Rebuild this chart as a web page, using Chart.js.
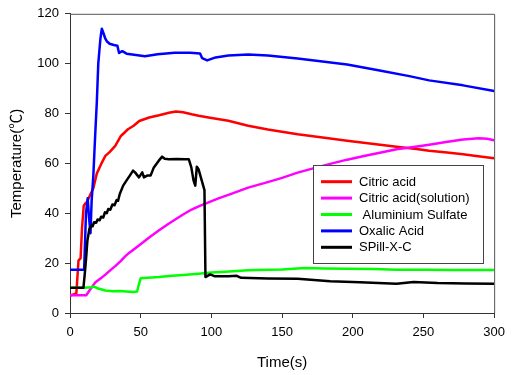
<!DOCTYPE html>
<html>
<head>
<meta charset="utf-8">
<script src="https://cdn.jsdelivr.net/npm/chart.js@4/dist/chart.umd.min.js"></script>
<style>
  html, body { margin: 0; padding: 0; background: #fff; }
  #wrap { width: 512px; height: 375px; position: relative; }
</style>
</head>
<body>
<div id="wrap"><canvas id="c" width="512" height="375"></canvas></div>
<script>
// ---- data ----
const seriesLabels = ['Citric acid', 'Citric acid(solution)', ' Aluminium Sulfate', 'Oxalic Acid', 'SPill-X-C'];

const citricT = [0, 3, 4.5, 6, 7.5, 8.5, 9.7, 11, 12, 14, 16.5, 19, 22, 25, 28, 32, 36, 41, 45, 49, 56, 63, 70, 75, 80, 86, 91, 98, 112, 126, 140, 161, 180, 196, 215, 231, 245, 254, 265, 278, 290, 300];
const citricV = [7, 7.5, 8, 21, 22, 34, 43, 44, 44.5, 47, 50, 56, 59.7, 63, 64.5, 67, 71, 73.7, 75.1, 77, 78.4, 79.3, 80.3, 80.8, 80.5, 79.7, 79.1, 78.4, 77.1, 75.1, 73.6, 71.7, 70.3, 69.1, 67.8, 66.7, 65.8, 65.1, 64.5, 63.7, 62.8, 62.1];

const solutionT = [0, 11.5, 14, 18, 22, 25, 29, 32, 36, 39, 42, 49, 56, 63, 70, 75, 80, 86, 91, 98, 105, 114, 126, 138, 150, 161, 172, 184, 196, 208, 220, 231, 243, 254, 266, 278, 289, 295, 300];
const solutionV = [7.1, 7.1, 9.2, 12.3, 14, 15.4, 17.4, 18.8, 20.9, 22.7, 24.2, 27.2, 30.3, 33.2, 35.9, 37.7, 39.5, 41.5, 42.8, 44.4, 46, 47.8, 50.3, 52.2, 54.2, 56.3, 58, 59.8, 61.5, 63, 64.4, 65.7, 66.6, 67.5, 68.6, 69.6, 70.1, 69.9, 69.3];

const sulfateT = [0, 10, 15, 17, 20, 25, 30, 35, 40, 45, 47.5, 48.5, 50, 55, 63, 70, 80, 91, 100, 110, 126, 140, 150, 166, 180, 196, 215, 231, 250, 270, 300];
const sulfateV = [10.1, 10.1, 10.3, 10.6, 9.8, 9, 8.7, 8.8, 8.6, 8.4, 8.6, 11, 13.9, 14.1, 14.4, 14.8, 15.2, 15.7, 16.2, 16.5, 17.1, 17.3, 17.4, 18, 17.8, 17.7, 17.6, 17.3, 17.3, 17.2, 17.2];

const oxalicT = [0, 10, 11.3, 12.5, 13.5, 14.5, 15.3, 16.5, 17.7, 19, 20, 21.5, 22.5, 23.5, 25, 26, 28, 31, 33.5, 34.7, 37, 40, 44, 53, 62, 74, 85, 92, 93.5, 97, 103, 112, 126, 140, 161, 180, 196, 219, 240, 254, 278, 300];
const oxalicV = [17.3, 17.3, 40, 46, 38, 32, 45, 55, 70, 85, 100, 110, 114, 112.5, 110, 109, 108, 107.5, 107.2, 104.3, 105, 104, 103.7, 103, 103.8, 104.4, 104.4, 104.1, 102.2, 101.3, 102.5, 103.3, 103.7, 103.3, 102.1, 100.8, 99.7, 97.3, 95, 93.3, 91.3, 89];

const spillT = [0, 9.5, 10.5, 11.4, 12.3, 13.7, 15, 16, 17, 18.5, 19.5, 21, 22, 23.5, 24.7, 26, 27, 28.5, 30, 31.5, 33, 34, 35.2, 37.6, 39.9, 42.3, 44.6, 46, 48.8, 51.1, 52.3, 54.6, 57, 59.3, 62.8, 65.2, 67, 69.9, 75, 81.6, 84, 85.8, 87.4, 88.6, 89.7, 90.9, 93.2, 95.1, 95.8, 99.1, 102.6, 112, 118, 121, 140, 161, 184, 205, 231, 243, 260, 280, 300];
const spillV = [10.1, 10.1, 16, 22, 29, 33.7, 35, 34.8, 36.4, 36.2, 37.5, 37.2, 38.6, 38.3, 40.4, 40, 41.7, 41.4, 43.5, 43.2, 45.3, 45, 47.7, 51.1, 53.1, 55.1, 57.1, 56.4, 54.4, 56.4, 54.4, 55.1, 55.1, 58.4, 61.1, 62.7, 61.9, 61.7, 61.8, 61.7, 61.7, 58.4, 53.1, 51.1, 58.7, 57.7, 53.1, 49.3, 14.4, 15.5, 14.7, 14.7, 14.9, 14.1, 13.8, 13.7, 12.7, 12.3, 11.7, 12.4, 12, 11.8, 11.7];

const xTickStep = 50;
const yTickStep = 20;

// ---- styles ----
const colors = ['#ff0000', '#ff00ff', '#00ff00', '#0000ff', '#000000'];
const FONT = '"Liberation Sans", Arial, "Noto Sans CJK SC", sans-serif';

function pts(ts, vs) { return ts.map((t, i) => ({ x: t, y: vs[i] })); }
const allT = [citricT, solutionT, sulfateT, oxalicT, spillT];
const allV = [citricV, solutionV, sulfateV, oxalicV, spillV];

const datasets = seriesLabels.map((lab, i) => ({
  label: lab,
  data: pts(allT[i], allV[i]),
  borderColor: colors[i],
  backgroundColor: colors[i],
  borderWidth: 2.5,
  pointRadius: 0,
  tension: 0,
  borderJoinStyle: 'round',
  fill: false,
  order: seriesLabels.length - 1 - i
}));

const framePlugin = {
  id: 'frame',
  afterDatasetsDraw(chart) {
    const { ctx, chartArea: a } = chart;
    ctx.save();
    ctx.strokeStyle = '#555';
    ctx.lineWidth = 1;
    ctx.beginPath();
    ctx.moveTo(a.left, a.top + 0.5);
    ctx.lineTo(a.right + 0.5, a.top + 0.5);
    ctx.lineTo(a.right + 0.5, a.bottom);
    ctx.stroke();
    ctx.restore();
  }
};

const legendPlugin = {
  id: 'boxLegend',
  afterDraw(chart) {
    const { ctx } = chart;
    const box = { x: 313.5, y: 165.5, w: 170, h: 98 };
    ctx.save();
    ctx.fillStyle = '#fff';
    ctx.fillRect(box.x, box.y, box.w, box.h);
    ctx.strokeStyle = '#444';
    ctx.lineWidth = 1;
    ctx.strokeRect(box.x, box.y, box.w, box.h);
    ctx.font = '13px ' + FONT;
    ctx.textBaseline = 'middle';
    ctx.textAlign = 'left';
    chart.data.datasets.forEach((ds, i) => {
      const cy = 181.7 + i * 16.4;
      ctx.strokeStyle = ds.borderColor;
      ctx.lineWidth = 3;
      ctx.beginPath();
      ctx.moveTo(321, cy);
      ctx.lineTo(352, cy);
      ctx.stroke();
      ctx.fillStyle = '#000';
      ctx.fillText(ds.label, 359, cy + 0.5);
    });
    ctx.restore();
  }
};

new Chart(document.getElementById('c'), {
  type: 'line',
  data: { datasets },
  plugins: [framePlugin, legendPlugin],
  options: {
    responsive: false,
    animation: false,
    devicePixelRatio: 1,
    layout: { padding: { left: 0, right: 14, top: 13, bottom: 0 } },
    plugins: { legend: { display: false }, tooltip: { enabled: false } },
    scales: {
      x: {
        type: 'linear',
        min: 0, max: 300,
        afterFit(s) { s.height = 62; },
        ticks: { stepSize: xTickStep, color: '#000', font: { family: FONT, size: 13 }, padding: 7, maxRotation: 0 },
        grid: { display: true, drawOnChartArea: false, drawTicks: true, tickLength: 5, tickColor: '#333' },
        border: { display: true, color: '#333', width: 1 },
        title: { display: true, text: 'Time(s)', color: '#000', font: { family: FONT, size: 15 }, padding: { top: 0, bottom: 3 } }
      },
      y: {
        min: 0, max: 120,
        afterFit(s) { s.width = 70; },
        ticks: { stepSize: yTickStep, color: '#000', font: { family: FONT, size: 13 }, padding: 6 },
        grid: { display: true, drawOnChartArea: false, drawTicks: true, tickLength: 5, tickColor: '#333' },
        border: { display: true, color: '#333', width: 1 },
        title: { display: true, text: 'Temperature(℃)', color: '#000', font: { family: FONT, size: 15 }, padding: { top: 8, bottom: 0 } }
      }
    }
  }
});
</script>
</body>
</html>
